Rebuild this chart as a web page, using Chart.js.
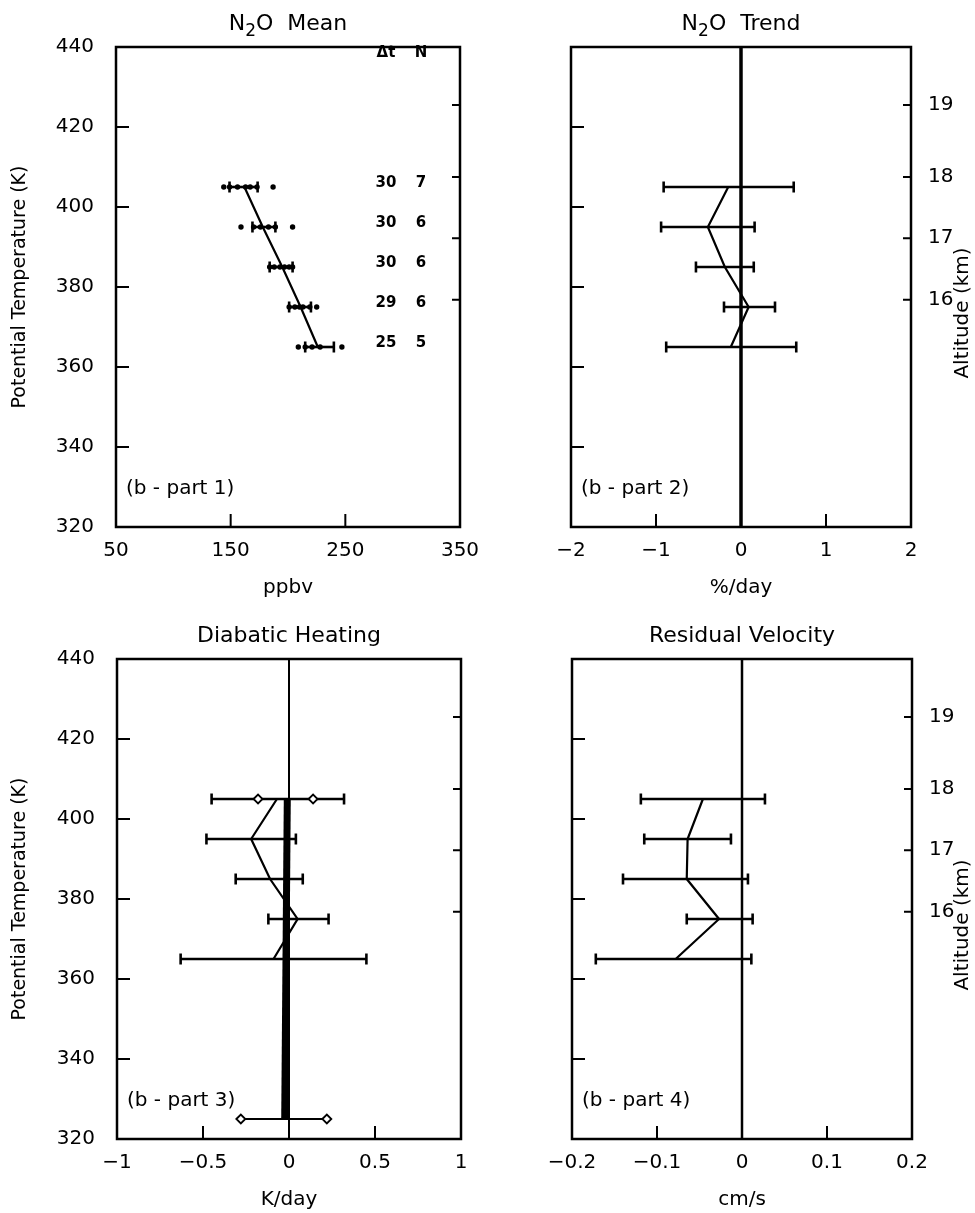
<!DOCTYPE html>
<html><head><meta charset="utf-8">
<script src="https://cdn.jsdelivr.net/npm/chart.js@4.4.1/dist/chart.umd.min.js"></script>
<style>
html,body{margin:0;padding:0;background:#fff;}
body{width:975px;height:1213px;position:relative;overflow:hidden;}
canvas{position:absolute;}
</style></head><body>
<canvas id="c1" width="487" height="606" style="left:0;top:0"></canvas>
<canvas id="c2" width="488" height="606" style="left:487px;top:0"></canvas>
<canvas id="c3" width="487" height="607" style="left:0;top:606px"></canvas>
<canvas id="c4" width="488" height="607" style="left:487px;top:606px"></canvas>
<script>
// ---------- shared axes ----------
const thetaRows = [405, 395, 385, 375, 365];
const yTickValues = [320, 340, 360, 380, 400, 420, 440];
const yTickLabels = ['320', '340', '360', '380', '400', '420', '440'];
const yInnerTicks = [340, 360, 380, 400, 420];
const altTheta = [425.5, 407.5, 392.2, 376.8];
const altLabels = ['19', '18', '17', '16'];

// ---------- panel 1 : N2O mean ----------
const n2oTickValues = [50, 150, 250, 350];
const n2oTickLabels = ['50', '150', '250', '350'];
const n2oMean = [162, 178, 195, 211, 226];
const n2oLow = [149, 169, 184, 201, 215];
const n2oHigh = [173.5, 189, 204, 220, 240];
const n2oObs405 = [144, 149, 156, 163, 167, 173, 187];
const n2oObs395 = [159, 170, 176, 183, 189, 204];
const n2oObs385 = [184, 188, 193, 197, 201, 204];
const n2oObs375 = [201, 206, 210, 213, 219, 225];
const n2oObs365 = [209, 215, 221, 228, 247];
const dtDays = ['30', '30', '30', '29', '25'];
const nObs = ['7', '6', '6', '6', '5'];

// ---------- panel 2 : N2O trend ----------
const trendTickValues = [-2, -1, 0, 1, 2];
const trendTickLabels = ['\u22122', '\u22121', '0', '1', '2'];
const trendMean = [-0.15, -0.39, -0.19, 0.09, -0.12];
const trendLow = [-0.91, -0.94, -0.53, -0.20, -0.88];
const trendHigh = [0.62, 0.16, 0.15, 0.40, 0.65];

// ---------- panel 3 : diabatic heating ----------
const heatTickValues = [-1, -0.5, 0, 0.5, 1];
const heatTickLabels = ['\u22121', '\u22120.5', '0', '0.5', '1'];
const heatMean = [-0.07, -0.22, -0.11, 0.05, -0.09];
const heatLow = [-0.45, -0.48, -0.31, -0.12, -0.63];
const heatHigh = [0.32, 0.04, 0.08, 0.23, 0.45];
const heatDiamondX405 = [-0.18, 0.14];
const heatRange325 = [-0.28, 0.22];
const radTheta = [405, 325];
const radHeat = [-0.01, -0.025];

// ---------- panel 4 : residual velocity ----------
const velTickValues = [-0.2, -0.1, 0, 0.1, 0.2];
const velTickLabels = ['\u22120.2', '\u22120.1', '0', '0.1', '0.2'];
const velMean = [-0.046, -0.064, -0.065, -0.027, -0.078];
const velLow = [-0.119, -0.115, -0.140, -0.065, -0.172];
const velHigh = [0.027, -0.013, 0.007, 0.0125, 0.011];

const FONT = 'DejaVu Sans';
Chart.defaults.font.family = FONT;
Chart.defaults.color = '#000';

function errorBars(lo, hi, rows) {
  return rows.map((y, i) => ({
    data: [{x: lo[i], y: y}, {x: hi[i], y: y}],
    showLine: true, borderColor: '#000', borderWidth: 2.6,
    pointStyle: 'line', pointRotation: 90, pointRadius: 5.5, pointHoverRadius: 5.5,
    pointBorderWidth: 2.6, pointBorderColor: '#000', pointBackgroundColor: '#000', order: 5
  }));
}
function meanLine(vals, rows, w) {
  return {data: rows.map((y, i) => ({x: vals[i], y: y})), showLine: true, borderColor: '#000',
    borderWidth: w || 2, pointRadius: 0, order: 3};
}
function zeroLine(w) {
  return {data: [{x: 0, y: 320}, {x: 0, y: 440}], showLine: true, borderColor: '#000',
    borderWidth: w, pointRadius: 0, order: 10};
}
function dots(vals, y) {
  return {data: vals.map(v => ({x: v, y: y})), showLine: false, pointRadius: 2.7,
    pointBackgroundColor: '#000', pointBorderColor: '#000', pointBorderWidth: 0, order: 1};
}

function drawParts(ctx, parts, cx, by) {
  // parts: [text, isSubscript]
  const big = '22px ' + FONT, small = '17px ' + FONT;
  let total = 0;
  parts.forEach(p => { ctx.font = p[1] ? small : big; total += ctx.measureText(p[0]).width; });
  let xx = cx - total / 2;
  ctx.textAlign = 'left';
  parts.forEach(p => {
    ctx.font = p[1] ? small : big;
    ctx.fillText(p[0], xx, p[1] ? by + 6 : by);
    xx += ctx.measureText(p[0]).width;
  });
}

const deco = {
  id: 'deco',
  afterDraw(chart, args, o) {
    const {ctx, chartArea: ca} = chart;
    const x = chart.scales.x, y = chart.scales.y;
    ctx.save();
    ctx.strokeStyle = '#000'; ctx.fillStyle = '#000';
    ctx.lineWidth = 2;
    ctx.beginPath();
    yInnerTicks.forEach(v => { const py = y.getPixelForValue(v); ctx.moveTo(ca.left, py); ctx.lineTo(ca.left + 13, py); });
    altTheta.forEach(v => { const py = y.getPixelForValue(v); ctx.moveTo(ca.right, py); ctx.lineTo(ca.right - 8, py); });
    o.xInner.forEach(v => { const px = x.getPixelForValue(v); ctx.moveTo(px, ca.bottom); ctx.lineTo(px, ca.bottom - 13); });
    ctx.stroke();
    ctx.lineWidth = 2.5;
    ctx.strokeRect(ca.left, ca.top, ca.right - ca.left, ca.bottom - ca.top);
    const cx = (ca.left + ca.right) / 2;
    // title
    ctx.textBaseline = 'alphabetic';
    drawParts(ctx, o.title, cx, ca.top - 17);
    // x title
    ctx.textAlign = 'center';
    ctx.font = '20px ' + FONT;
    ctx.fillText(o.xTitle, cx, ca.bottom + 66);
    // panel label
    ctx.textAlign = 'left';
    ctx.font = '20px ' + FONT;
    ctx.fillText(o.part, ca.left + 10, ca.bottom - 33);
    // left title
    ctx.textBaseline = 'middle'; ctx.textAlign = 'center';
    ctx.font = '19px ' + FONT;
    if (o.leftTitle) {
      ctx.save(); ctx.translate(20, (ca.top + ca.bottom) / 2); ctx.rotate(-Math.PI / 2);
      ctx.fillText(o.leftTitle, 0, 0); ctx.restore();
    }
    if (o.rightTitle) {
      ctx.font = '20px ' + FONT;
      ctx.save(); ctx.translate(476, ca.top + 266); ctx.rotate(-Math.PI / 2);
      ctx.fillText(o.rightTitle, 0, 0); ctx.restore();
    }
    if (o.table) {
      ctx.font = 'bold 15px ' + FONT;
      ctx.fillText('\u0394t', 386, ca.top + 6);
      ctx.fillText('N', 421, ca.top + 6);
      thetaRows.forEach((t, i) => {
        const py = y.getPixelForValue(t) - 4;
        ctx.fillText(dtDays[i], 386, py);
        ctx.fillText(nObs[i], 421, py);
      });
    }
    ctx.restore();
  }
};

function makeChart(id, p) {
  const scales = {
    x: {type: 'linear', position: 'bottom', min: p.xVals[0], max: p.xVals[p.xVals.length - 1],
      afterBuildTicks: s => { s.ticks = p.xVals.map(v => ({value: v})); },
      ticks: {callback: (v, i) => p.xLabels[i], font: {size: 20, family: FONT}, color: '#000',
        padding: 4, maxRotation: 0, autoSkip: false},
      grid: {display: false}, border: {display: false},
      afterFit: s => { s.height = p.xH; }},
    y: {type: 'linear', position: 'left', min: 320, max: 440, display: p.showLeft,
      afterBuildTicks: s => { s.ticks = yTickValues.map(v => ({value: v})); },
      ticks: {callback: (v, i) => yTickLabels[i], font: {size: 20, family: FONT}, color: '#000', padding: 14, autoSkip: false},
      grid: {display: false}, border: {display: false}}
  };
  if (p.showLeft) scales.y.afterFit = s => { s.width = p.yW; };
  if (p.showRight) {
    scales.y2 = {type: 'linear', position: 'right', min: 320, max: 440,
      afterBuildTicks: s => { s.ticks = altTheta.map(v => ({value: v})); },
      ticks: {callback: (v, i) => altLabels[i], font: {size: 20, family: FONT}, color: '#000', padding: 9, autoSkip: false},
      grid: {display: false}, border: {display: false},
      afterFit: s => { s.width = p.y2W; }};
  }
  return new Chart(document.getElementById(id), {
    type: 'scatter',
    data: {datasets: p.datasets},
    options: {
      responsive: false, animation: false, devicePixelRatio: 1,
      layout: {padding: p.pad},
      plugins: {legend: {display: false}, tooltip: {enabled: false}, deco: p.deco},
      scales: scales
    },
    plugins: [deco]
  });
}

// Panel 1
makeChart('c1', {
  xVals: n2oTickValues, xLabels: n2oTickLabels, xH: 79, yW: 116, showLeft: true, showRight: false,
  pad: {left: 0, top: 47, right: 27, bottom: 0},
  datasets: [].concat(
    [dots(n2oObs405, 405), dots(n2oObs395, 395), dots(n2oObs385, 385), dots(n2oObs375, 375), dots(n2oObs365, 365)],
    [meanLine(n2oMean, thetaRows, 2.2)],
    errorBars(n2oLow, n2oHigh, thetaRows)),
  deco: {title: [['N', false], ['2', true], ['O  Mean', false]], xTitle: 'ppbv', part: '(b - part 1)',
    leftTitle: 'Potential Temperature (K)', xInner: [150, 250], table: true}
});

// Panel 2
makeChart('c2', {
  xVals: trendTickValues, xLabels: trendTickLabels, xH: 79, showLeft: false, showRight: true, y2W: 64,
  pad: {left: 84, top: 47, right: 0, bottom: 0},
  datasets: [].concat([zeroLine(3.5), meanLine(trendMean, thetaRows, 2.2)], errorBars(trendLow, trendHigh, thetaRows)),
  deco: {title: [['N', false], ['2', true], ['O  Trend', false]], xTitle: '%/day', part: '(b - part 2)',
    rightTitle: 'Altitude (km)', xInner: [-1, 0, 1]}
});

// Panel 3
makeChart('c3', {
  xVals: heatTickValues, xLabels: heatTickLabels, xH: 74, yW: 117, showLeft: true, showRight: false,
  pad: {left: 0, top: 53, right: 26, bottom: 0},
  datasets: [].concat(
    [zeroLine(2),
     {data: radTheta.map((t, i) => ({x: radHeat[i], y: t})), showLine: true, borderColor: '#000', borderWidth: 7, pointRadius: 0, order: 4},
     meanLine(heatMean, thetaRows, 2.2),
     {data: heatDiamondX405.map(v => ({x: v, y: 405})), showLine: false, pointStyle: 'rectRot', pointRadius: 4.5,
      pointBackgroundColor: '#fff', pointBorderColor: '#000', pointBorderWidth: 1.8, order: 1},
     {data: heatRange325.map(v => ({x: v, y: 325})), showLine: true, borderColor: '#000', borderWidth: 2,
      pointStyle: 'rectRot', pointRadius: 4.5, pointBackgroundColor: '#fff', pointBorderColor: '#000', pointBorderWidth: 1.8, order: 1}],
    errorBars(heatLow, heatHigh, thetaRows)),
  deco: {title: [['Diabatic Heating', false]], xTitle: 'K/day', part: '(b - part 3)',
    leftTitle: 'Potential Temperature (K)', xInner: [-0.5, 0, 0.5]}
});

// Panel 4
makeChart('c4', {
  xVals: velTickValues, xLabels: velTickLabels, xH: 74, showLeft: false, showRight: true, y2W: 63,
  pad: {left: 85, top: 53, right: 0, bottom: 0},
  datasets: [].concat([zeroLine(2.5), meanLine(velMean, thetaRows, 2.2)], errorBars(velLow, velHigh, thetaRows)),
  deco: {title: [['Residual Velocity', false]], xTitle: 'cm/s', part: '(b - part 4)',
    rightTitle: 'Altitude (km)', xInner: [-0.1, 0, 0.1]}
});
</script>
</body></html>
